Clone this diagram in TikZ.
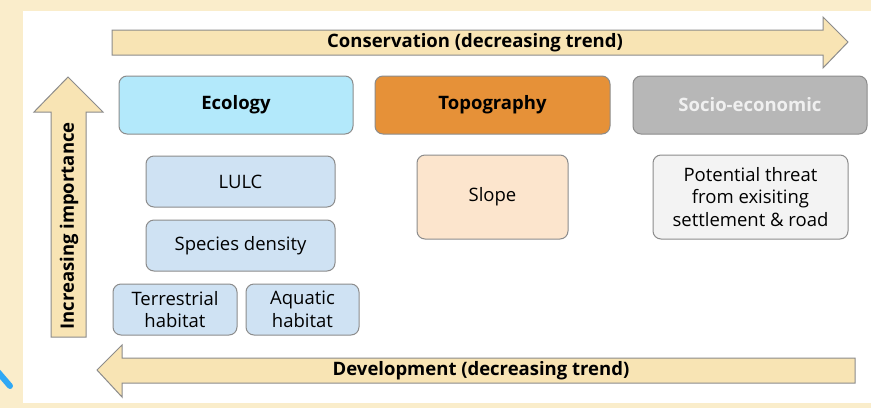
\documentclass[tikz,border=0pt]{standalone}
\usepackage{fontspec}
\setmainfont{Open Sans}
\usepackage{xcolor}

\definecolor{cream}{HTML}{FAEDCB}
\definecolor{wheat}{HTML}{F8E4B4}
\definecolor{ecofill}{HTML}{B3E9FB}
\definecolor{topofill}{HTML}{E69138}
\definecolor{sociofill}{HTML}{B7B7B7}
\definecolor{subblue}{HTML}{CFE2F3}
\definecolor{subpeach}{HTML}{FCE5CD}
\definecolor{subgrey}{HTML}{F3F3F3}
\definecolor{edge}{HTML}{8C8C8C}

\begin{document}
\begin{tikzpicture}[x=1pt, y=-1pt,
  box/.style={draw=edge, line width=1pt, rounded corners=8pt, inner sep=0pt,
    align=center, font=\fontsize{18.5}{22.5}\selectfont},
  head/.style={box, minimum width=234pt, minimum height=58pt, font=\fontsize{18.5}{22.5}\selectfont\bfseries},
  bigarrow/.style={draw=edge, fill=wheat, line width=1pt},
  arrowtext/.style={font=\fontsize{18.5}{22.5}\selectfont\bfseries, inner sep=0pt}]
  \useasboundingbox (0,0) rectangle (871,408);
  \fill[cream] (0,0) rectangle (871,408);
  \fill[white] (23,11) rectangle (871,403);
  \draw[color={rgb,255:red,47;green,168;blue,245}, line width=6pt, line cap=round] (-2,372) -- (10,386);

  \draw[bigarrow] (112,30) -- (823,30) -- (823,17) -- (848,42) -- (823,68) -- (823,55) -- (112,55) -- cycle;
  \node[arrowtext] (cons) at (475,43) {Conservation (decreasing trend)};
  \draw[bigarrow] (855,358) -- (122,358) -- (122,345) -- (97,370) -- (122,397) -- (122,383) -- (855,383) -- cycle;
  \node[arrowtext] (dev) at (481,371) {Development (decreasing trend)};
  \draw[bigarrow] (51,337) -- (51,112) -- (34,112) -- (68,77) -- (103,112) -- (86,112) -- (86,337) -- cycle;
  \node[arrowtext, rotate=90] (imp) at (69,226) {Increasing importance};

  \node[head, fill=ecofill] (eco) at (236,105) {Ecology};
  \node[head, fill=topofill, minimum width=235pt] (topo) at (492.5,105) {Topography};
  \node[head, fill=sociofill, text={rgb,255:red,240;green,240;blue,240}] (socio) at (750,105) {Socio-economic};

  \node[box, fill=subblue, minimum width=189pt, minimum height=51pt] (lulc) at (240.5,181.5) {LULC};
  \node[box, fill=subblue, minimum width=189pt, minimum height=51pt] (spec) at (240.5,245.5) {Species density};
  \node[box, fill=subblue, minimum width=124pt, minimum height=51pt] (terr) at (175,309.5) {Terrestrial\\habitat};
  \node[box, fill=subblue, minimum width=113pt, minimum height=51pt] (aqua) at (302.5,309.5) {Aquatic\\habitat};
  \node[box, fill=subpeach, minimum width=151pt, minimum height=84pt] (slope) at (492.5,197) {Slope};
  \node[box, fill=subgrey, minimum width=195pt, minimum height=84pt] (threat) at (750.5,197) {Potential threat\\from exisiting\\settlement \& road};
\end{tikzpicture}
\end{document}
